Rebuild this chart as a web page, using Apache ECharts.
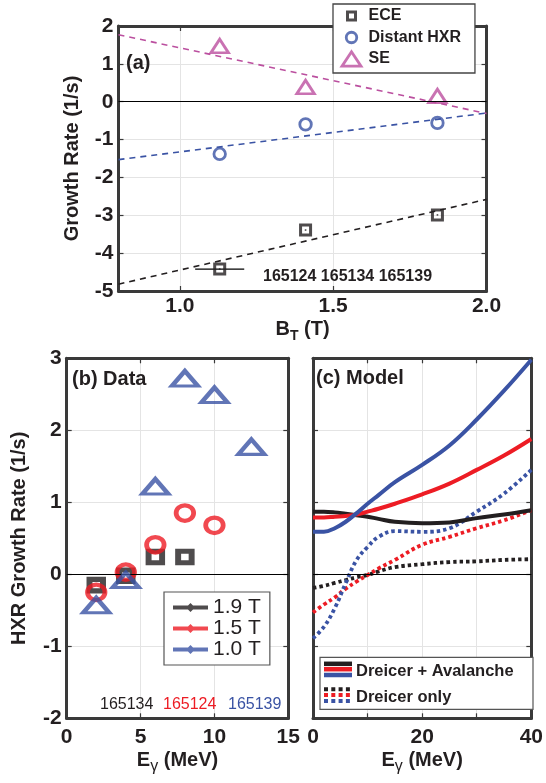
<!DOCTYPE html>
<html><head><meta charset="utf-8">
<script src="https://cdn.jsdelivr.net/npm/echarts@6/dist/echarts.min.js"></script>
<style>html,body{margin:0;padding:0;background:#fff}#c{width:546px;height:783px}</style>
</head><body><div id="c"></div>
<script>
// ---------------- data: panel (a) ----------------
const aXTicks = [1.0, 1.5, 2.0];
const fieldBT = [1.13, 1.41, 1.84];
const eceRate = [-4.42, -3.39, -2.99];
const eceBTErr = [0.08, 0, 0];
const hxrRate = [-1.38, -0.60, -0.56];
const seRate = [1.47, 0.39, 0.15];
const fitBT = [0.8, 2.0];
const eceFit = [-4.82, -2.58];
const hxrFit = [-1.53, -0.30];
const seFit = [1.77, -0.31];
const shotsA = '165124 165134 165139';

// ---------------- data: panel (b) ----------------
const energy19 = [2, 4, 6, 8];
const rate19 = [-0.15, -0.02, 0.24, 0.24];
const energy15 = [2, 4, 6, 8, 10];
const rate15 = [-0.25, 0.03, 0.41, 0.85, 0.68];
const energy10 = [2, 4, 6, 8, 10, 12.5];
const rate10 = [-0.43, -0.08, 1.22, 2.72, 2.49, 1.77];
const shotsB = ['165134', '165124', '165139'];

// ---------------- data: panel (c) ----------------
const cXLabels = [0, 20, 40];
const modelE = [0, 2, 4, 6, 8, 10, 12, 15, 20, 25, 30, 35, 40];
const avalanche19 = [0.87, 0.87, 0.86, 0.84, 0.82, 0.80, 0.77, 0.73, 0.71, 0.72, 0.78, 0.83, 0.89];
const avalanche15 = [0.79, 0.79, 0.80, 0.81, 0.83, 0.87, 0.91, 0.98, 1.11, 1.26, 1.45, 1.65, 1.88];
const avalanche10 = [0.59, 0.59, 0.64, 0.73, 0.85, 0.98, 1.10, 1.28, 1.52, 1.79, 2.15, 2.55, 2.98];
const dreicer19 = [-0.19, -0.16, -0.12, -0.08, -0.04, -0.01, 0.04, 0.10, 0.14, 0.17, 0.18, 0.20, 0.21];
const dreicer15 = [-0.53, -0.42, -0.32, -0.20, -0.10, -0.01, 0.08, 0.20, 0.41, 0.52, 0.64, 0.75, 0.89];
const dreicer10 = [-0.89, -0.73, -0.47, -0.12, 0.20, 0.38, 0.52, 0.60, 0.59, 0.64, 0.87, 1.12, 1.45];

// ---------------- style ----------------
const FONT = "'Liberation Sans', Arial, sans-serif";
const BLACK = '#231f20', RED = '#ed1c24', BLUE = '#3a53a4', MAGENTA = '#bb4f9f', FRAME = '#3a3a3a';
const NONE = 'rgba(0,0,0,0)';

function merge(a, b) {
  const o = Object.assign({}, a);
  for (const k in b) {
    if (b[k] && typeof b[k] === 'object' && !Array.isArray(b[k]) && a[k] && typeof a[k] === 'object') o[k] = merge(a[k], b[k]);
    else o[k] = b[k];
  }
  return o;
}
const zip = (xs, ys) => xs.map((x, i) => [x, ys[i]]);

const nameStyle = {
  fontFamily: FONT, fontWeight: 'bold', fontSize: 20, color: BLACK, lineHeight: 28,
  rich: { s: { fontFamily: FONT, fontWeight: 'bold', fontSize: 14, color: BLACK, verticalAlign: 'bottom', lineHeight: 14 },
          g: { fontFamily: FONT, fontWeight: 'normal', fontSize: 16, color: BLACK, verticalAlign: 'bottom', lineHeight: 15 } }
};
const yNameStyle = { fontFamily: FONT, fontWeight: 'bold', fontSize: 20, color: BLACK, lineHeight: 24 };

function axis(gridIndex, pos, min, max, extra) {
  const isMain = pos === 'bottom' || pos === 'left';
  const base = {
    type: 'value', gridIndex, position: pos, min, max, nameMoveOverlap: false,
    axisLine: { show: true, onZero: false, lineStyle: { color: FRAME, width: 3 } },
    axisTick: { show: true, inside: true, length: 5, lineStyle: { color: FRAME, width: 1.2 } },
    axisLabel: { show: isMain, color: BLACK, fontFamily: FONT, fontWeight: 'bold', fontSize: 21, margin: 6, showMinLabel: true, showMaxLabel: true },
    splitLine: { show: isMain, lineStyle: { color: '#e4e4e4', width: 1 } }
  };
  return merge(base, extra || {});
}

// xAxis: 0 a-bottom, 1 a-top, 2 b-bottom, 3 b-top, 4 c-bottom, 5 c-top
const xAxis = [
  axis(0, 'bottom', 0.8, 2.0, {
    axisLabel: { customValues: aXTicks, formatter: v => v.toFixed(1), margin: 5 },
    axisTick: { customValues: aXTicks },
    name: 'B{s|T} (T)', nameLocation: 'middle', nameGap: 24, nameTextStyle: nameStyle
  }),
  axis(0, 'top', 0.8, 2.0, { axisTick: { customValues: aXTicks } }),
  axis(1, 'bottom', 0, 15, {
    interval: 5, axisLabel: { margin: 8 },
    name: 'E{g|γ} (MeV)', nameLocation: 'middle', nameGap: 28, nameTextStyle: nameStyle
  }),
  axis(1, 'top', 0, 15, { interval: 5 }),
  axis(2, 'bottom', 0, 40, {
    interval: 10, axisLabel: { customValues: cXLabels, margin: 8 },
    name: 'E{g|γ} (MeV)', nameLocation: 'middle', nameGap: 28, nameTextStyle: nameStyle
  }),
  axis(2, 'top', 0, 40, { interval: 10 })
];
// yAxis: 0 a-left, 1 a-right, 2 b-left, 3 b-right, 4 c-left, 5 c-right
const yAxis = [
  axis(0, 'left', -5, 2, {
    interval: 1, axisLabel: { margin: 5 },
    name: 'Growth Rate (1/s)', nameLocation: 'middle', nameGap: 34, nameTextStyle: yNameStyle
  }),
  axis(0, 'right', -5, 2, { interval: 1 }),
  axis(1, 'left', -2, 3, {
    interval: 1, axisLabel: { margin: 5 },
    name: 'HXR Growth Rate (1/s)', nameLocation: 'middle', nameGap: 35, nameTextStyle: yNameStyle
  }),
  axis(1, 'right', -2, 3, { interval: 1 }),
  axis(2, 'left', -2, 3, { interval: 1, axisLabel: { show: false } }),
  axis(2, 'right', -2, 3, { interval: 1 })
];

function zeroLine() {
  return {
    silent: true, symbol: 'none', animation: false,
    label: { show: false }, lineStyle: { color: '#000', width: 1, type: 'solid' },
    data: [{ yAxis: 0 }]
  };
}

function fitSeries(name, ys, color) {
  return { type: 'line', name, xAxisIndex: 0, yAxisIndex: 0, data: zip(fitBT, ys), showSymbol: false, symbol: 'none',
           lineStyle: { color, width: 1.6, type: [6, 5] }, z: 1, silent: true };
}
const errBars = fieldBT.map((b, i) => eceBTErr[i] > 0 ? { type: 'line', name: 'err' + i, xAxisIndex: 0, yAxisIndex: 0, symbol: 'none', silent: true,
  data: [[b - eceBTErr[i], eceRate[i]], [b + eceBTErr[i], eceRate[i]]], lineStyle: { color: '#000', width: 1.2 }, z: 2 } : null).filter(Boolean);

function modelLine(name, ys, color, dotted) {
  return { type: 'line', name, xAxisIndex: 4, yAxisIndex: 4, data: zip(modelE, ys), smooth: 0.4, showSymbol: false, symbol: 'none', silent: true,
           lineStyle: dotted ? { color, width: 3.8, type: [3.5, 3] } : { color, width: 4 } };
}

const series = [
  fitSeries('fitSE', seFit, MAGENTA),
  fitSeries('fitHXR', hxrFit, BLUE),
  fitSeries('fitECE', eceFit, BLACK),
  ...errBars,
  { type: 'scatter', name: 'ECE', xAxisIndex: 0, yAxisIndex: 0, data: zip(fieldBT, eceRate), symbol: 'rect', symbolSize: 10,
    itemStyle: { color: NONE, borderColor: BLACK, borderWidth: 3 }, markLine: zeroLine(), z: 3 },
  { type: 'scatter', name: 'eceDot', xAxisIndex: 0, yAxisIndex: 0, data: zip(fieldBT, eceRate), symbol: 'rect', symbolSize: 1.6,
    itemStyle: { color: BLACK }, z: 3 },
  { type: 'scatter', name: 'Distant HXR', xAxisIndex: 0, yAxisIndex: 0, data: zip(fieldBT, hxrRate), symbol: 'circle', symbolSize: 11.5,
    itemStyle: { color: NONE, borderColor: BLUE, borderWidth: 2.8 }, z: 3 },
  { type: 'scatter', name: 'SE', xAxisIndex: 0, yAxisIndex: 0, data: zip(fieldBT, seRate), symbol: 'triangle', symbolSize: [17.5, 13.5],
    itemStyle: { color: NONE, borderColor: MAGENTA, borderWidth: 2.8 }, z: 3 },

  { type: 'scatter', name: '1.9 T', xAxisIndex: 2, yAxisIndex: 2, data: zip(energy19, rate19), symbol: 'rect', symbolSize: [13.5, 11.5],
    itemStyle: { color: NONE, borderColor: BLACK, borderWidth: 5.5 }, markLine: zeroLine(), z: 3 },
  { type: 'scatter', name: '1.5 T', xAxisIndex: 2, yAxisIndex: 2, data: zip(energy15, rate15), symbol: 'circle', symbolSize: [17.5, 15.5],
    itemStyle: { color: NONE, borderColor: RED, borderWidth: 4.5 }, z: 4 },
  { type: 'scatter', name: '1.0 T', xAxisIndex: 2, yAxisIndex: 2, data: zip(energy10, rate10), symbol: 'triangle', symbolSize: [26, 15],
    itemStyle: { color: NONE, borderColor: BLUE, borderWidth: 4 }, z: 5 },

  Object.assign(modelLine('dreicer19', dreicer19, BLACK, true), { markLine: zeroLine() }),
  modelLine('dreicer15', dreicer15, RED, true),
  modelLine('dreicer10', dreicer10, BLUE, true),
  modelLine('aval19', avalanche19, BLACK, false),
  modelLine('aval15', avalanche15, RED, false),
  modelLine('aval10', avalanche10, BLUE, false)
];

const pad = 'M0,0M24,16';
const legendA = {
  orient: 'vertical', left: 333, top: 4, padding: [2, 14, 4, 5], itemGap: 1.5,
  itemWidth: 24, itemHeight: 16, symbolKeepAspect: true, selectedMode: false, z: 10,
  backgroundColor: '#fff', borderColor: '#444', borderWidth: 1.3, borderRadius: 0,
  textStyle: { fontFamily: FONT, fontWeight: 'bold', fontSize: 16, color: BLACK, lineHeight: 20 },
  data: [
    { name: 'ECE', icon: 'path://' + pad + 'M8,4L16,4L16,12L8,12Z', itemStyle: { color: NONE, borderColor: BLACK, borderWidth: 3 } },
    { name: 'Distant HXR', icon: 'path://' + pad + 'M6.75,8A5.25,5.25 0 1,0 17.25,8A5.25,5.25 0 1,0 6.75,8Z', itemStyle: { color: NONE, borderColor: BLUE, borderWidth: 2.8 } },
    { name: 'SE', icon: 'path://' + pad + 'M12,0.8L21.5,15.2L2.5,15.2Z', itemStyle: { color: NONE, borderColor: MAGENTA, borderWidth: 2.8 } }
  ]
};
const lineIcon = 'path://M0,0M35,10M0,3L35,3L35,7L0,7ZM17.5,0.5L22,5L17.5,9.5L13,5Z';
const legendB = {
  orient: 'vertical', left: 164, top: 592, padding: [5, 9, 5, 9], itemGap: 0,
  itemWidth: 35, itemHeight: 10, symbolKeepAspect: true, selectedMode: false, z: 10,
  backgroundColor: '#fff', borderColor: '#555', borderWidth: 1.2,
  textStyle: { fontFamily: FONT, fontWeight: 'normal', fontSize: 21, color: BLACK, lineHeight: 20.7 },
  data: [
    { name: '1.9 T', icon: lineIcon, itemStyle: { color: BLACK, borderWidth: 0 } },
    { name: '1.5 T', icon: lineIcon, itemStyle: { color: RED, borderWidth: 0 } },
    { name: '1.0 T', icon: lineIcon, itemStyle: { color: BLUE, borderWidth: 0 } }
  ]
};

function txt(text, x, y, size, color, weight) {
  return { type: 'text', x, y, z: 20, silent: true,
           style: { text, fill: color, font: (weight || 'bold') + ' ' + size + 'px ' + FONT, verticalAlign: 'middle', align: 'left' } };
}
function seg(x1, x2, y, color, w, dash) {
  const st = { stroke: color, lineWidth: w };
  if (dash) st.lineDash = dash;
  return { type: 'line', z: 21, silent: true, shape: { x1, y1: y, x2, y2: y }, style: st };
}
const graphic = [
  txt('(a)', 126, 63, 20, BLACK),
  txt(shotsA, 263, 277, 16, BLACK),
  txt('(b) Data', 72, 379, 20, BLACK),
  txt(shotsB[0], 100, 705, 16, BLACK, 'normal'),
  txt(shotsB[1], 163, 705, 16, RED, 'normal'),
  txt(shotsB[2], 228, 705, 16, BLUE, 'normal'),
  txt('(c) Model', 316, 378, 20, BLACK),
  { type: 'rect', z: 19, silent: true, shape: { x: 320, y: 657.3, width: 213, height: 52 }, style: { fill: '#fff', stroke: '#555', lineWidth: 1.2 } },
  seg(324, 352, 663.8, BLACK, 4.5), seg(324, 352, 669.2, RED, 4.5), seg(324, 352, 675, BLUE, 4.5),
  seg(324, 352, 689.3, BLACK, 4, [4, 3.3]), seg(324, 352, 695, RED, 4, [4, 3.3]), seg(324, 352, 701, BLUE, 4, [4, 3.3]),
  txt('Dreicer + Avalanche', 356, 671, 16.5, BLACK),
  txt('Dreicer only', 356, 697, 16.5, BLACK)
];

const chart = echarts.init(document.getElementById('c'), null, { renderer: 'canvas' });
chart.setOption({
  animation: false,
  backgroundColor: '#fff',
  grid: [
    { left: 118.5, top: 26, width: 368, height: 265 },
    { left: 66.7, top: 358.3, width: 221.6, height: 360 },
    { left: 313, top: 358.3, width: 224, height: 360 }
  ],
  xAxis, yAxis, series,
  legend: [legendA, legendB],
  graphic
});
</script>
</body></html>
